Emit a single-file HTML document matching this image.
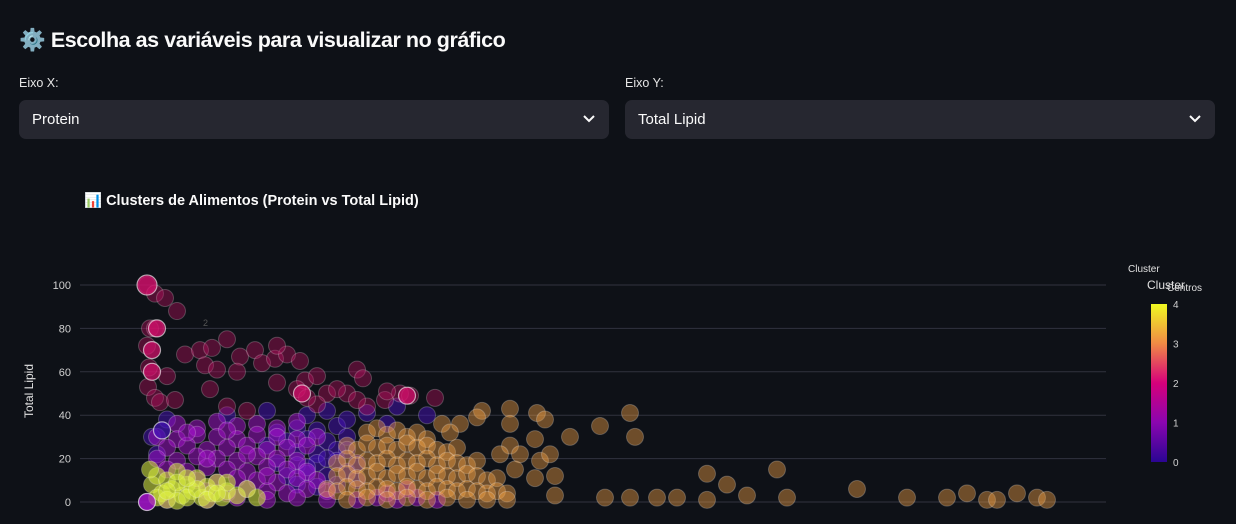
<!DOCTYPE html>
<html><head><meta charset="utf-8">
<style>
body{margin:0;width:1236px;height:524px;background:#0e1117;overflow:hidden;font-family:"Liberation Sans","DejaVu Sans",sans-serif;color:#fafafa;position:relative}
.h{position:absolute;left:19px;top:28px;font-size:21.5px;font-weight:bold;letter-spacing:-0.45px}
.lbl{position:absolute;top:76px;font-size:12.5px;color:#e6e6e6}
.sel{position:absolute;top:100px;width:590px;height:39px;background:#262730;border-radius:7px;font-size:15px;line-height:39px;box-sizing:border-box;padding-left:13px}
.sel svg{position:absolute;right:14px;top:14px}
.ct{position:absolute;left:84px;top:192px;font-size:14.5px;font-weight:bold}
svg#chart{position:absolute;left:0;top:0}
</style></head><body>
<div class="h">⚙️ Escolha as variáveis para visualizar no gráfico</div>
<div class="lbl" style="left:19px">Eixo X:</div>
<div class="lbl" style="left:625px">Eixo Y:</div>
<div class="sel" style="left:19px">Protein<svg width="12" height="10" viewBox="0 0 12 10"><path d="M1 2 L6 7 L11 2" stroke="#fafafa" stroke-width="2" fill="none"/></svg></div>
<div class="sel" style="left:625px">Total Lipid<svg width="12" height="10" viewBox="0 0 12 10"><path d="M1 2 L6 7 L11 2" stroke="#fafafa" stroke-width="2" fill="none"/></svg></div>
<svg id="chart" width="1236" height="524">
<defs><linearGradient id="cb" x1="0" y1="1" x2="0" y2="0">
<stop offset="0" stop-color="#2a0593"/><stop offset="0.25" stop-color="#8a05b0"/><stop offset="0.5" stop-color="#d6007a"/><stop offset="0.75" stop-color="#f08a45"/><stop offset="1" stop-color="#f0f921"/></linearGradient></defs>
<g id="grid"></g><g id="pts"></g><g id="axes"></g>
</svg>
<div class="ct">📊 Clusters de Alimentos (Protein vs Total Lipid)</div>
<script>
const yTicks=[0,20,40,60,80,100];
const cbTicks=[0,1,2,3,4];
const clusterColors=["#4512b8","#a412cc","#b8105e","#f2a244","#dcf040"];
const c0=[[13,32],[15,34],[17,33],[19,35],[14,28],[16,29],[18,28],[20,30],[15,23],[17,22],[19,24],[13,18],[15,17],[17,18],[19,19],[14,12],[16,13],[18,12],[20,14],[15,8],[17,7],[19,8],[21,10],[16,40],[18,42],[20,38],[22,41],[24,36],[12,42],[8,40],[2,38],[0.5,30],[1,22],[25,44],[28,40],[18,20],[20,24],[21,18],[16,16],[12,26]];
const c1=[[3,36],[5,34],[7,37],[9,35],[11,36],[13,34],[15,37],[1,30],[3,29],[5,31],[7,30],[9,29],[11,31],[13,30],[15,29],[17,30],[2,25],[4,26],[6,24],[8,25],[10,26],[12,24],[14,25],[16,26],[1,20],[3,19],[5,21],[7,20],[9,19],[11,21],[13,20],[15,19],[2,15],[4,14],[6,16],[8,15],[10,14],[12,16],[14,15],[16,14],[5,10],[7,9],[9,11],[11,10],[13,9],[15,11],[17,10],[6,5],[8,4],[10,6],[12,5],[14,4],[16,6],[18,5],[0,0],[2,1],[6,1],[9,2],[12,1],[15,2],[18,1],[21,1],[23,2],[25,1],[27,2],[29,1],[4,32],[8,33],[10,22],[6,20],[12,12],[24,4],[26,6]];
const c2=[[0,100],[0.8,96],[1.8,94],[3,88],[0.3,80],[0.8,80],[3.8,68],[5.3,70],[6.5,71],[8,75],[9.3,67],[10.8,70],[11.5,64],[12.8,66],[14,68],[15.3,65],[15.8,56],[17,58],[18,50],[21,61],[21.6,57],[23.8,47],[25.3,50],[26.3,49],[28.8,48],[0,72],[0.2,62],[0.1,53],[0.8,48],[2,58],[1.3,46],[5.8,63],[6.3,52],[2.8,47],[13,55],[15,52],[17,45],[20,50],[8,44],[10,42],[22,44],[24,51],[7,61],[9,60],[13,72],[16,48],[19,52],[21,47]];
const c3=[[22,32],[23,34],[24,31],[25,33],[26,30],[27,32],[28,29],[20,26],[21,24],[22,27],[23,25],[24,26],[25,24],[26,27],[27,25],[28,26],[29,24],[30,23],[31,25],[19,18],[20,20],[21,17],[22,19],[23,18],[24,20],[25,17],[26,19],[27,18],[28,20],[29,17],[30,19],[31,18],[32,17],[33,19],[19,12],[20,13],[21,11],[22,12],[23,14],[24,11],[25,13],[26,12],[27,14],[28,11],[29,13],[30,12],[31,11],[32,13],[33,12],[34,10],[35,11],[18,6],[19,5],[20,7],[21,6],[22,5],[23,7],[24,6],[25,5],[26,7],[27,6],[28,5],[29,7],[30,6],[31,5],[32,6],[33,5],[34,4],[35,5],[36,4],[20,1],[22,2],[24,1],[26,2],[28,1],[30,2],[32,1],[34,1],[36,1],
[33.5,42],[36.3,43],[29.5,36],[31.3,36],[33,39],[36.3,36],[39,41],[39.8,38],[30.3,32],[36.3,26],[38.8,29],[42.3,30],[45.3,35],[48.3,41],[48.8,30],[39.3,19],[37.3,22],[40.3,22],[35.3,22],[40.8,12],[36.8,15],[38.8,11],[40.8,3],[45.8,2],[48.3,2],[51,2],[53,2],[56,13],[56,1],[58,8],[60,3],[63,15],[64,2],[71,6],[76,2],[82,4],[84,1],[87,4],[89,2],[90,1],[85,1],[80,2]];
const c4=[[0.5,8],[1,12],[1.5,4],[2,10],[2.5,6],[3,14],[3.5,3],[4,8],[4.5,5],[5,11],[5.5,2],[6,7],[6.5,4],[7,9],[7.5,2],[8,5],[9,3],[10,6],[11,2],[1,2],[2,1],[3,0.5],[0.3,15],[4,2],[3,9],[5,6],[8,9],[6,1],[2,5],[4,11],[7,4]];
const highlights=[[0,100,2],[1,80,2],[0.5,70,2],[0.5,60,2],[15.5,50,2],[26,49,2],[0,0,1],[1.5,33,0]];
const X0=147, PXU=10, Y0=502, PYU=2.17;
const xs=v=>X0+v*PXU, ys=v=>Y0-v*PYU;
const NS="http://www.w3.org/2000/svg";
function mk(t,a,p){const e=document.createElementNS(NS,t);for(const k in a)e.setAttribute(k,a[k]);p.appendChild(e);return e;}
const grid=document.getElementById('grid'),pts=document.getElementById('pts'),axes=document.getElementById('axes');
yTicks.forEach(t=>{
 const l=mk('line',{x1:80,x2:1106,y1:ys(t),y2:ys(t),stroke:'#31333f','stroke-width':1},grid);
 
 
 const tx=mk('text',{x:71,y:ys(t)+4,'text-anchor':'end','font-size':11,fill:'#d0d0d0'},axes);tx.textContent=t;
 
 
});
const yt=mk('text',{x:33,y:391,'text-anchor':'middle','font-size':12,fill:'#e0e0e0',transform:'rotate(-90 33 391)'},axes);yt.textContent='Total Lipid';


const opac=[0.5,0.5,0.4,0.42,0.55];
[c0,c1,c2,c3,c4].forEach((arr,ci)=>{
 arr.forEach(p=>{
  const c=mk('circle',{cx:xs(p[0]),cy:ys(p[1]),r:8.5,fill:clusterColors[ci],'fill-opacity':opac[ci],stroke:'#ffffff','stroke-opacity':0.22,'stroke-width':1},pts);
  
  
 });
});
highlights.forEach(p=>{
 const c=mk('circle',{cx:xs(p[0]),cy:ys(p[1]),r:p[1]>90?10:8.5,fill:p[2]==2?'#d8106e':clusterColors[p[2]],'fill-opacity':0.7,stroke:'#ffffff','stroke-opacity':0.6,'stroke-width':1.2},pts);
 
 
});
const t2=mk('text',{x:203,y:326,'font-size':9,fill:'#555'},pts);t2.textContent='2';


const cbTop=304, cbBot=462;
const cbr=mk('rect',{x:1151,y:cbTop,width:16,height:cbBot-cbTop,fill:'url(#cb)'},axes);


cbTicks.forEach(t=>{
 const tx=mk('text',{x:1173,y:cbBot-(cbBot-cbTop)*t/4+4,'font-size':10,fill:'#d0d0d0'},axes);tx.textContent=t;
 
 
});
[['Cluster',1128,272,10],['Cluster',1147,289,12],['Centros',1167,291,10]].forEach(a=>{
 const tx=mk('text',{x:a[1],y:a[2],'font-size':a[3],fill:'#e0e0e0'},axes);tx.textContent=a[0];
 
 
});
</script>
</body></html>
